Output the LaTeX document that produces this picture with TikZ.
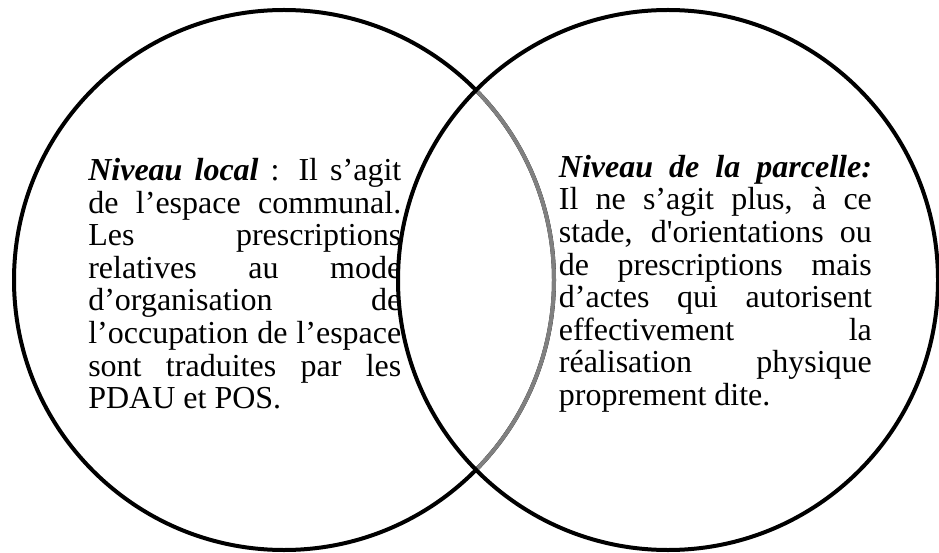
\documentclass[tikz,border=0pt]{standalone}
\usepackage{fontspec}
\setmainfont{Liberation Serif}
\usetikzlibrary{positioning}
\begin{document}
\begin{tikzpicture}[x=1pt,y=-1pt,semithick]
  \tikzstyle{ring}=[draw, line width=4pt]
  \tikzstyle{txt}=[text width=313pt, align=justify, inner sep=0pt,
    font=\fontsize{32}{32.6}\selectfont,
    execute at begin node={\tolerance=10000\hyphenpenalty=10000\relax}]
  \useasboundingbox (0,0) rectangle (939,553);
  \coordinate (L) at (284,280);
  \coordinate (R) at (668,280);
  \draw[ring] (L) circle[radius=270];
  \draw[ring, gray] (L) ++(-44.7:270pt) arc[start angle=-44.7, end angle=44.7, radius=270pt];
  \draw[ring] (R) circle[radius=270];
  \node[txt, anchor=north west] (local) at (88,158)
    {\textbf{\textit{Niveau local}} : Il s’agit\linebreak
     de l’espace communal.\linebreak
     Les prescriptions\linebreak
     relatives au mode\linebreak
     d’organisation de\linebreak
     l’occupation de l’espace\linebreak
     sont traduites par les\linebreak
     PDAU et POS.};
  \node[txt, right=157pt of local] (parcelle)
    {\textbf{\textit{Niveau de la parcelle:}}\linebreak
     Il ne s’agit plus, à ce\linebreak
     stade, d\textquotesingle orientations ou\linebreak
     de prescriptions mais\linebreak
     d’actes qui autorisent\linebreak
     effectivement la\linebreak
     réalisation physique\linebreak
     proprement dite.};
\end{tikzpicture}
\end{document}
